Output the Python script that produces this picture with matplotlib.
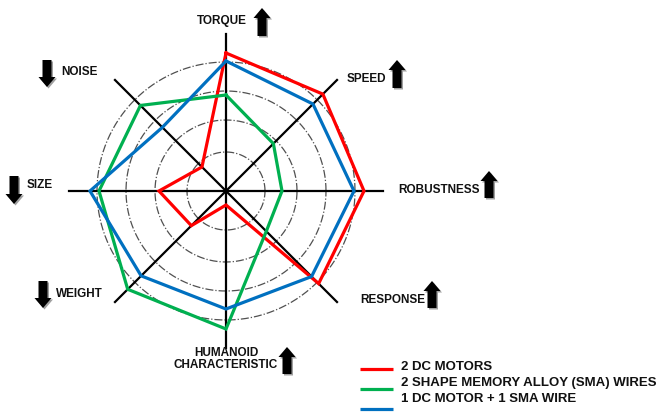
import numpy as np
import matplotlib.pyplot as plt
import matplotlib.patches as mpatches
from matplotlib import font_manager

# radar values (chart units, axis length = 157)
categories = ["TORQUE", "SPEED", "ROBUSTNESS", "RESPONSE",
              "HUMANOID\nCHARACTERISTIC", "WEIGHT", "SIZE", "NOISE"]
angles_deg = [90, 45, 0, -45, -90, -135, 180, 135]
higher_better = [True, True, True, True, True, False, False, False]

dc_motors = [138, 137, 138, 131, 14, 49, 67, 34]
sma_wires = [96, 67, 56, 57, 138, 139, 127, 121]
dc_plus_sma = [130, 123, 128, 121, 118, 120, 136, 90]
series = [dc_motors, sma_wires, dc_plus_sma]
series_names = ["2 DC MOTORS", "2 SHAPE MEMORY ALLOY (SMA) WIRES", "1 DC MOTOR + 1 SMA WIRE"]
series_colors = ["#ff0000", "#00b050", "#0070c0"]

grid_rings = [39, 71, 100, 129]
axis_len = 157

names = {f.name for f in font_manager.fontManager.ttflist}
font = "Liberation Sans Narrow" if "Liberation Sans Narrow" in names else "Liberation Sans"
plt.rcParams["font.family"] = [font, "DejaVu Sans"]

W, H = 657, 413
cx, cy = 226, 191  # centre of the radar in pixels


def P(px, py):
    # pixel position -> data coords
    return px - cx, cy - py


fig = plt.figure(figsize=(W / 100, H / 100), dpi=100)
ax = fig.add_axes([0, 0, 1, 1])
ax.set_xlim(-cx, W - cx)
ax.set_ylim(-(H - cy), cy)
ax.axis("off")

th = np.radians(angles_deg)

# dash-dot rings
t = np.linspace(0, 2 * np.pi, 400)
for r in grid_rings:
    ax.plot(r * np.cos(t), r * np.sin(t), color="#505050", lw=0.9, ls="-.", zorder=1)

# spokes
for a in th:
    ax.plot([0, axis_len * np.cos(a)], [0, axis_len * np.sin(a)], color="black", lw=1.6, zorder=2)

# polygons
for vals, c in zip(series, series_colors):
    v = np.array(vals + vals[:1], dtype=float)
    a = np.append(th, th[0])
    ax.plot(v * np.cos(a), v * np.sin(a), color=c, lw=2.3, zorder=3, solid_joinstyle="miter")


def block_arrow(px, ptop, pbot, up):
    x, ytop = P(px, ptop)
    _, ybot = P(px, pbot)
    length = ytop - ybot
    if up:
        start, d = ybot, length
    else:
        start, d = ytop, -length
    for off, col in [((1.5, -1.5), "#a0a0a0"), ((0, 0), "black")]:
        arr = mpatches.FancyArrow(x + off[0], start + off[1], 0, d, width=9,
                                  head_width=17, head_length=10,
                                  length_includes_head=True, color=col,
                                  lw=0, zorder=5)
        ax.add_patch(arr)


fs = 8.5
label_pos = {
    "TORQUE": (222, 21, "center"),
    "SPEED": (347, 79, "left"),
    "ROBUSTNESS": (398, 190, "left"),
    "RESPONSE": (360, 300, "left"),
    "HUMANOID\nCHARACTERISTIC": (226, 359, "center"),
    "WEIGHT": (56, 294, "left"),
    "SIZE": (27, 185, "left"),
    "NOISE": (61, 72, "left"),
}
arrow_pos = {
    "TORQUE": (262, 8, 36),
    "SPEED": (397, 60, 88),
    "ROBUSTNESS": (489, 171, 198),
    "RESPONSE": (432, 281, 308),
    "HUMANOID\nCHARACTERISTIC": (287, 347, 374),
    "WEIGHT": (43, 281, 308),
    "SIZE": (14, 176, 204),
    "NOISE": (47, 60, 87),
}
for cat, up in zip(categories, higher_better):
    px, py, ha = label_pos[cat]
    x, y = P(px, py)
    ax.text(x, y, cat, ha=ha, va="center", fontsize=fs, fontweight="bold",
            color="#111111", linespacing=1.1, zorder=6)
    block_arrow(*arrow_pos[cat], up)

# legend (drawn by hand, lines sit lower than their texts as in the original)
line_y = [369, 389, 409]
text_y = [367, 383, 399]
for name, c, ly, tyy in zip(series_names, series_colors, line_y, text_y):
    x0, y0 = P(360, ly)
    x1, _ = P(393, ly)
    ax.plot([x0, x1], [y0, y0], color=c, lw=2.3, solid_capstyle="butt")
    tx, ty = P(401, tyy)
    ax.text(tx, ty, name, ha="left", va="center", fontsize=9.5, fontweight="bold", color="#111111")

fig.savefig("out.png", dpi=100)
